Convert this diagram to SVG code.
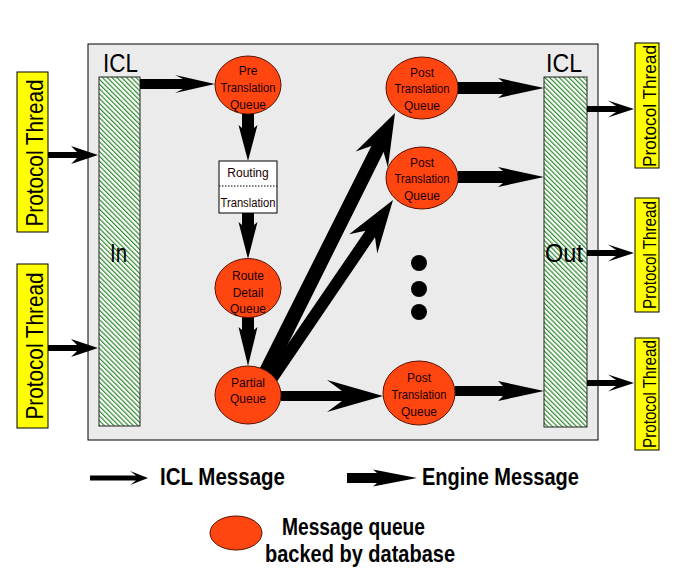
<svg xmlns="http://www.w3.org/2000/svg" width="677" height="573" viewBox="0 0 677 573">
<style>
.lbl{font-family:"Liberation Sans",Arial,sans-serif;fill:#000}
.big{font-size:25px}
.node{font-size:12px;text-anchor:middle;fill:#1a0000}
.pt{fill:#ffff00;stroke:#000;stroke-width:1}
.q{fill:#ff4510;stroke:#5a1000;stroke-width:1}
.col{fill:url(#hatch);stroke:#222;stroke-width:1}
.arr{fill:#000;stroke:none}
.leg{font-size:23px;font-weight:bold}
</style>
<defs>
<pattern id="hatch" patternUnits="userSpaceOnUse" width="3.4" height="3.4" patternTransform="rotate(-45)">
<rect width="3.4" height="3.4" fill="#ffffff"/>
<line x1="0.6" y1="0" x2="0.6" y2="3.4" stroke="#2e8b2e" stroke-width="1.2"/>
</pattern>
</defs>
<rect width="677" height="573" fill="#ffffff"/>
<g id="engine-box">
<rect x="88" y="44" width="510" height="396" fill="#ebebeb" stroke="#000" stroke-width="1"/>
</g>
<g id="icl-in">
<rect class="col" x="99" y="77" width="41" height="349"/>
<text class="lbl big" x="103" y="72" textLength="35" lengthAdjust="spacingAndGlyphs">ICL</text>
<text class="lbl big" x="110" y="262" textLength="17" lengthAdjust="spacingAndGlyphs">In</text>
</g>
<g id="icl-out">
<rect class="col" x="544" y="77" width="43" height="350"/>
<text class="lbl big" x="546" y="72" textLength="36" lengthAdjust="spacingAndGlyphs">ICL</text>
<text class="lbl big" x="545" y="262" textLength="38" lengthAdjust="spacingAndGlyphs">Out</text>
</g>
<g id="protocol-in-1">
<rect class="pt" x="17" y="72" width="31" height="160"/>
<text class="lbl" font-size="24" text-anchor="middle" textLength="147" lengthAdjust="spacingAndGlyphs" transform="translate(43,153) rotate(-90)">Protocol Thread</text>
</g>
<g id="protocol-in-2">
<rect class="pt" x="17" y="264" width="31" height="164"/>
<text class="lbl" font-size="24" text-anchor="middle" textLength="147" lengthAdjust="spacingAndGlyphs" transform="translate(43,346) rotate(-90)">Protocol Thread</text>
</g>
<g id="protocol-out-1">
<rect class="pt" x="635" y="43" width="24" height="125"/>
<text class="lbl" font-size="19" text-anchor="middle" textLength="122" lengthAdjust="spacingAndGlyphs" transform="translate(656,106) rotate(-90)">Protocol Thread</text>
</g>
<g id="protocol-out-2">
<rect class="pt" x="635" y="198" width="24" height="114"/>
<text class="lbl" font-size="19" text-anchor="middle" textLength="108" lengthAdjust="spacingAndGlyphs" transform="translate(656,255) rotate(-90)">Protocol Thread</text>
</g>
<g id="protocol-out-3">
<rect class="pt" x="635" y="338" width="24" height="112"/>
<text class="lbl" font-size="19" text-anchor="middle" textLength="108" lengthAdjust="spacingAndGlyphs" transform="translate(656,394) rotate(-90)">Protocol Thread</text>
</g>
<g id="connectors">
<polygon class="arr" points="48,152 77,152 71,146 98,155 71,164 77,158 48,158"/>
<polygon class="arr" points="48,345 77,345 71,339 98,348 71,357 77,351 48,351"/>
<polygon class="arr" points="140,79 183,79 175,75 215,84 175,93 183,89 140,89"/>
<polygon class="arr" points="242,114 242,128 238.5,125 248,161 257.5,125 254,128 254,114"/>
<polygon class="arr" points="242,213 242,225 238.5,222 248,259 257.5,222 254,225 254,213"/>
<polygon class="arr" points="242,317 242,330 238.5,327 248,366 257.5,327 254,330 254,317"/>
<polygon class="arr" points="281,391 342,391 327,380 383,396 327,412 342,401 281,401"/>
<polygon class="arr" points="255.5,376.8 371.34,145.90 355.70,151.52 395,113 387.92,167.58 383.6,152.0 268.5,383.2"/>
<polygon class="arr" points="267.0,374.6 365.40,230.82 349.14,234.28 393,200 377.26,253.40 375.0,237.3 277.0,381.4"/>
<polygon class="arr" points="458,82 503,82 498,78 544,88 498,98 503,94 458,94"/>
<polygon class="arr" points="458,171 503,171 498,167 544,177 498,187 503,183 458,183"/>
<polygon class="arr" points="455,386 503,386 498,381 544,391 498,401 503,396 455,396"/>
<polygon class="arr" points="587,106 616,106 608,100.5 634,109 608,117.5 616,112 587,112"/>
<polygon class="arr" points="587,250 616,250 608,244.5 634,253 608,261.5 616,256 587,256"/>
<polygon class="arr" points="587,380 616,380 608,374.5 634,383 608,391.5 616,386 587,386"/>
</g>
<g id="pre-translation-queue">
<ellipse class="q" cx="248" cy="85" rx="33" ry="29"/>
<text class="lbl node" x="248" y="75">Pre</text>
<text class="lbl node" x="248" y="92" textLength="55" lengthAdjust="spacingAndGlyphs">Translation</text>
<text class="lbl node" x="248" y="108.5">Queue</text>
</g>
<g id="routing-translation">
<rect x="219" y="161" width="58" height="52" fill="#fff" stroke="#000" stroke-width="1"/>
<line x1="219" y1="186" x2="277" y2="186" stroke="#000" stroke-width="1" stroke-dasharray="1.5,1.5"/>
<text class="lbl node" x="248" y="177">Routing</text>
<text class="lbl node" x="248" y="207" textLength="55" lengthAdjust="spacingAndGlyphs">Translation</text>
</g>
<g id="route-detail-queue">
<ellipse class="q" cx="248" cy="288" rx="33" ry="29.5"/>
<text class="lbl node" x="248" y="280">Route</text>
<text class="lbl node" x="248" y="297">Detail</text>
<text class="lbl node" x="248" y="313">Queue</text>
</g>
<g id="partial-queue">
<ellipse class="q" cx="248" cy="395" rx="33" ry="29"/>
<text class="lbl node" x="248" y="387">Partial</text>
<text class="lbl node" x="248" y="403">Queue</text>
</g>
<g id="post-translation-queue-1">
<ellipse class="q" cx="422" cy="88" rx="36" ry="31"/>
<text class="lbl node" x="422" y="77">Post</text>
<text class="lbl node" x="422" y="93" textLength="55" lengthAdjust="spacingAndGlyphs">Translation</text>
<text class="lbl node" x="422" y="110">Queue</text>
</g>
<g id="post-translation-queue-2">
<ellipse class="q" cx="422" cy="178" rx="36" ry="31"/>
<text class="lbl node" x="422" y="167">Post</text>
<text class="lbl node" x="422" y="183" textLength="55" lengthAdjust="spacingAndGlyphs">Translation</text>
<text class="lbl node" x="422" y="200">Queue</text>
</g>
<g id="post-translation-queue-3">
<ellipse class="q" cx="419" cy="393" rx="36" ry="32"/>
<text class="lbl node" x="419" y="382">Post</text>
<text class="lbl node" x="419" y="399" textLength="55" lengthAdjust="spacingAndGlyphs">Translation</text>
<text class="lbl node" x="419" y="416">Queue</text>
</g>
<g id="ellipsis">
<circle cx="419" cy="263" r="8" fill="#000"/>
<circle cx="419" cy="289" r="8" fill="#000"/>
<circle cx="419" cy="312" r="8" fill="#000"/>
</g>
<g id="legend">
<polygon class="arr" points="90,475.5 136,475.5 130,471 148,478 130,485 136,480.5 90,480.5"/>
<text class="lbl leg" x="160" y="485" textLength="125" lengthAdjust="spacingAndGlyphs">ICL Message</text>
<polygon class="arr" points="347,473 377,473 373,469.5 417,478 373,486.5 377,483 347,483"/>
<text class="lbl leg" x="422" y="485" textLength="157" lengthAdjust="spacingAndGlyphs">Engine Message</text>
<ellipse class="q" cx="236" cy="533" rx="26" ry="17"/>
<text class="lbl leg" x="282" y="535" textLength="143" lengthAdjust="spacingAndGlyphs">Message queue</text>
<text class="lbl leg" x="265" y="562" textLength="190" lengthAdjust="spacingAndGlyphs">backed by database</text>
</g>
</svg>
